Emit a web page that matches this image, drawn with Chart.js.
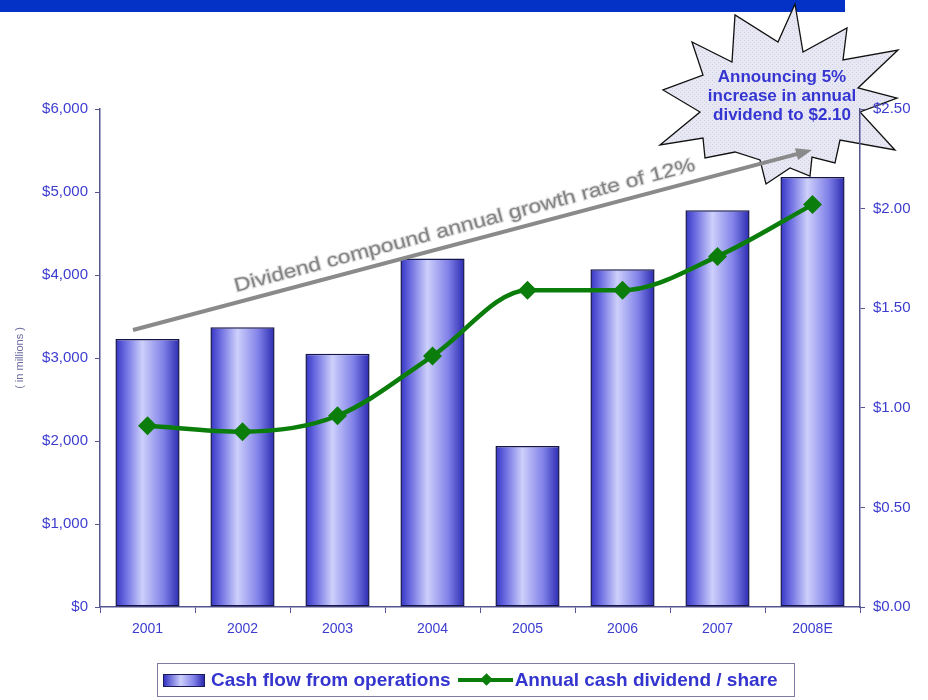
<!DOCTYPE html>
<html lang="en">
<head>
  <meta charset="UTF-8" />
  <title>Cash flow from operations</title>

  <!-- Chart.js -->
  <script src="https://cdn.jsdelivr.net/npm/chart.js"></script>

  <style>
    * {
      margin: 0;
      padding: 0;
      box-sizing: border-box;
    }

    body {
      width: 928px;
      height: 700px;
      background: #fff;
      position: relative;
      overflow: hidden;
      font-family: 'Liberation Sans', Arial, sans-serif;
    }

    .banda {
      position: absolute;
      left: 0;
      top: 0;
      width: 845px;
      height: 12px;
      background: #0532c6;
    }

    #grafico {
      position: absolute;
      left: 0;
      top: 0;
    }

    .leyenda {
      position: absolute;
      left: 157px;
      top: 663px;
      width: 638px;
      height: 34px;
      border: 1px solid #7c7ca4;
      display: flex;
      align-items: center;
      font-weight: bold;
      font-size: 19px;
      color: #3434cf;
      white-space: nowrap;
    }

    .muestra-barra {
      width: 42px;
      height: 13px;
      margin-left: 5px;
      border: 1px solid #1b1b55;
      background: linear-gradient(to right, #3434c4, #cdd0fb 42%, #8080e8 75%, #2a2ab0);
    }

    .muestra-linea {
      position: relative;
      width: 55px;
      height: 4px;
      margin-left: 7px;
      background: #0b7d0b;
    }

    .muestra-linea::after {
      content: '';
      position: absolute;
      left: 24px;
      top: -3px;
      width: 9px;
      height: 9px;
      background: #0b7d0b;
      transform: rotate(45deg);
    }
  </style>
</head>
<body>

  <div class="banda"></div>
  <canvas id="grafico" width="928" height="700"></canvas>

  <div class="leyenda">
    <div class="muestra-barra"></div>
    <span style="margin-left:6px">Cash flow from operations</span>
    <div class="muestra-linea"></div>
    <span style="margin-left:2px">Annual cash dividend / share</span>
  </div>

  <script>
    // Datos
    const anios = ['2001', '2002', '2003', '2004', '2005', '2006', '2007', '2008E'];
    const flujoCaja = [3230, 3370, 3050, 4200, 1940, 4070, 4780, 5180];   // millones
    const dividendo = [0.91, 0.88, 0.96, 1.26, 1.59, 1.59, 1.76, 2.02];   // $ por acción

    const maxIzq = 6000, pasoIzq = 1000;
    const maxDer = 2.5, pasoDer = 0.5;

    const azulTexto = '#3c3ccf';
    const colorEje = '#55558f';
    const verde = '#0b7d0b';
    const fuente = "'Liberation Sans', Arial, sans-serif";

    const ctx = document.getElementById('grafico').getContext('2d');

    // Degradado horizontal de cada barra
    function degradadoBarra(c) {
      const chart = c.chart;
      const escala = chart.scales.x;
      if (!escala || c.dataIndex === undefined) return '#7070e0';
      const centro = escala.getPixelForValue(c.dataIndex);
      const ancho = (escala.width / anios.length) * 0.675;
      if (!Number.isFinite(centro) || !Number.isFinite(ancho) || ancho <= 0) return '#7070e0';
      const g = chart.ctx.createLinearGradient(centro - ancho / 2, 0, centro + ancho / 2, 0);
      g.addColorStop(0, '#3434c4');
      g.addColorStop(0.15, '#6a6ae0');
      g.addColorStop(0.42, '#cdd0fb');
      g.addColorStop(0.75, '#8080e8');
      g.addColorStop(1, '#2a2ab0');
      return g;
    }

    // Trama clara para la estrella
    function tramaEstrella() {
      const c = document.createElement('canvas');
      c.width = 4; c.height = 4;
      const p = c.getContext('2d');
      p.fillStyle = '#e8e8f4';
      p.fillRect(0, 0, 4, 4);
      p.fillStyle = '#cfcfe2';
      p.fillRect(0, 0, 1, 1);
      p.fillRect(2, 2, 1, 1);
      return ctx.createPattern(c, 'repeat');
    }

    const estrella = [
      [795, 4], [803, 52], [847, 28], [843, 60], [898, 50], [858, 88], [897, 98],
      [860, 112], [895, 150], [840, 140], [835, 163], [812, 157], [810, 176],
      [790, 168], [766, 184], [760, 160], [735, 152], [705, 158], [703, 138],
      [660, 145], [700, 112], [663, 90], [703, 75], [692, 42], [732, 62],
      [735, 15], [778, 42]
    ];

    const anotaciones = {
      id: 'anotaciones',

      // estrella del anuncio, debajo de los ejes
      beforeDraw(chart) {
        const c = chart.ctx;
        c.save();
        c.beginPath();
        estrella.forEach(([x, y], i) => (i ? c.lineTo(x, y) : c.moveTo(x, y)));
        c.closePath();
        c.fillStyle = tramaEstrella();
        c.fill();
        c.strokeStyle = '#111';
        c.lineWidth = 1.3;
        c.lineJoin = 'miter';
        c.stroke();

        c.fillStyle = '#3535d2';
        c.font = 'bold 17px ' + fuente;
        c.textAlign = 'center';
        c.textBaseline = 'middle';
        c.fillText('Announcing 5%', 782, 77);
        c.fillText('increase in annual', 782, 96);
        c.fillText('dividend to $2.10', 782, 115);
        c.restore();
      },

      // flecha gris y texto de crecimiento
      afterDatasetsDraw(chart) {
        const c = chart.ctx;
        c.save();
        const x0 = 133, y0 = 330, x1 = 812, y1 = 150;
        const ang = Math.atan2(y1 - y0, x1 - x0);
        c.strokeStyle = '#8a8a8a';
        c.fillStyle = '#8a8a8a';
        c.lineWidth = 4;
        c.beginPath();
        c.moveTo(x0, y0);
        c.lineTo(x1 - 12 * Math.cos(ang), y1 - 12 * Math.sin(ang));
        c.stroke();
        c.beginPath();
        c.moveTo(x1, y1);
        c.lineTo(x1 - 16 * Math.cos(ang) + 6 * Math.sin(ang), y1 - 16 * Math.sin(ang) - 6 * Math.cos(ang));
        c.lineTo(x1 - 16 * Math.cos(ang) - 6 * Math.sin(ang), y1 - 16 * Math.sin(ang) + 6 * Math.cos(ang));
        c.closePath();
        c.fill();

        const texto = 'Dividend compound annual growth rate of 12%';
        c.translate(236, 292);
        c.rotate(ang);
        c.font = '19px ' + fuente;
        const w = c.measureText(texto).width;
        c.scale(476 / w, 1);
        c.textAlign = 'left';
        c.textBaseline = 'alphabetic';
        c.lineWidth = 2;
        c.strokeStyle = '#dcdcdc';
        c.strokeText(texto, 0, 0);
        c.fillStyle = '#858585';
        c.fillText(texto, 0, 0);
        c.restore();
      }
    };

    new Chart(ctx, {
      data: {
        labels: anios,
        datasets: [
          {
            type: 'line',
            label: 'Annual cash dividend / share',
            data: dividendo,
            yAxisID: 'y1',
            borderColor: verde,
            backgroundColor: verde,
            borderWidth: 4.5,
            pointStyle: 'rectRot',
            pointRadius: 9.5,
            pointBorderWidth: 0,
            cubicInterpolationMode: 'monotone',
            order: 0
          },
          {
            type: 'bar',
            label: 'Cash flow from operations',
            data: flujoCaja,
            yAxisID: 'y',
            backgroundColor: degradadoBarra,
            borderColor: '#15154a',
            borderWidth: 1.5,
            borderSkipped: false,
            categoryPercentage: 1,
            barPercentage: 0.675,
            order: 1
          }
        ]
      },
      options: {
        responsive: false,
        animation: false,
        layout: { padding: { top: 109, bottom: 63, left: 0, right: 0 } },
        plugins: {
          legend: { display: false },
          tooltip: { enabled: false }
        },
        scales: {
          x: {
            afterFit(s) { s.height = 30; },
            grid: { display: true, drawOnChartArea: false, offset: true, tickLength: 6, color: colorEje },
            border: { color: colorEje, width: 1.5 },
            ticks: { color: azulTexto, font: { family: fuente, size: 14 }, padding: 8 }
          },
          y: {
            position: 'left',
            min: 0,
            max: maxIzq,
            afterFit(s) { s.width = 100; },
            grid: { display: true, drawOnChartArea: false, tickLength: 5, color: colorEje },
            border: { color: colorEje, width: 1.5 },
            ticks: {
              stepSize: pasoIzq,
              color: azulTexto,
              font: { family: fuente, size: 15 },
              padding: 7,
              callback: v => '$' + v.toLocaleString('en-US')
            },
            title: {
              display: true,
              text: '( in millions )',
              color: '#6a6a9e',
              font: { family: fuente, size: 11 },
              padding: { top: 13 }
            }
          },
          y1: {
            position: 'right',
            min: 0,
            max: maxDer,
            afterFit(s) { s.width = 68; },
            grid: { display: true, drawOnChartArea: false, tickLength: 5, color: colorEje },
            border: { color: colorEje, width: 1.5 },
            ticks: {
              stepSize: pasoDer,
              color: azulTexto,
              font: { family: fuente, size: 15 },
              padding: 8,
              callback: v => '$' + v.toFixed(2)
            }
          }
        }
      },
      plugins: [anotaciones]
    });
  </script>

</body>
</html>
